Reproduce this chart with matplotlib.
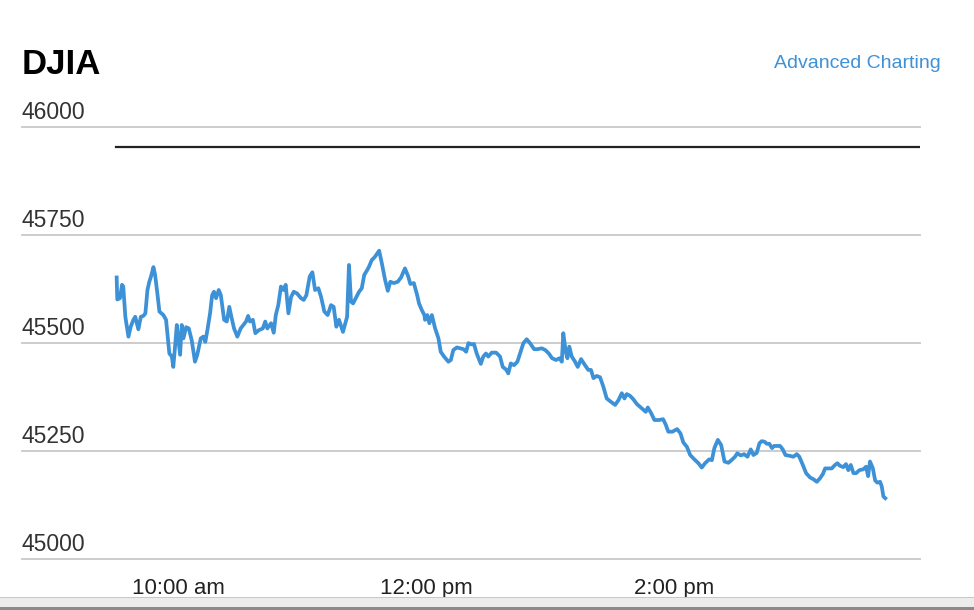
import matplotlib
matplotlib.use("Agg")
import matplotlib.pyplot as plt
from matplotlib import font_manager
from matplotlib.patches import Rectangle

# minutes after the 9:30 open, and DJIA level
minutes = [0.3, 0.6, 1.9, 2.9, 3.5, 4.5, 6.0, 7.1, 8.4, 9.3, 10.8, 12.0, 13.2, 14.2, 15.2,
           16.1, 16.9, 18.1, 18.9, 20.0, 21.0, 22.9, 24.2, 25.8, 27.0, 27.7, 28.7, 29.4,
           30.2, 31.0, 31.8, 32.6, 33.9, 35.2, 36.6, 38.2, 39.3, 41.0, 42.2, 43.2, 44.2,
           45.5, 46.5, 47.4, 48.4, 49.7, 50.7, 52.3, 53.6, 54.8, 55.8, 57.1, 58.7, 60.3,
           61.6, 62.9, 63.9, 64.8, 66.2, 67.4, 69.1, 71.0, 72.2, 73.2, 75.0, 76.3, 77.3,
           78.5, 79.8, 81.0, 82.1, 83.4, 84.7, 86.0, 87.6, 89.5, 90.8, 92.1, 93.7, 95.0,
           96.3, 97.9, 99.2, 100.8, 102.4, 104.0, 105.3, 106.6, 107.9, 109.8, 111.8, 112.7,
           113.7, 114.7, 116.3, 117.6, 118.9, 120.1, 121.5, 122.4, 123.7, 125.3, 127.3,
           128.6, 130.2, 131.5, 132.7, 134.4, 136.3, 137.9, 139.8, 141.4, 142.4, 144.1,
           145.7, 146.6, 147.9, 149.2, 149.5, 150.6, 151.6, 152.8, 154.4, 156.0, 157.1,
           158.7, 160.8, 162.0, 163.2, 164.9, 166.5, 168.1, 169.4, 170.5, 172.1, 173.2,
           174.5, 176.5, 177.7, 179.0, 180.1, 181.8, 183.9, 185.8, 187.1, 188.7, 189.8,
           191.0, 192.6, 194.2, 195.5, 197.1, 198.7, 200.3, 202.3, 203.9, 206.0, 207.7,
           209.4, 211.0, 212.9, 214.5, 215.7, 216.4, 217.6, 218.4, 219.3, 220.5, 222.1,
           223.4, 225.0, 226.9, 228.5, 229.8, 231.0, 232.6, 234.2, 235.8, 237.4, 239.5,
           241.5, 243.1, 244.7, 246.0, 247.1, 248.7, 250.3, 252.0, 254.4, 256.3, 257.3,
           258.9, 260.5, 262.7, 264.7, 266.0, 267.2, 269.2, 271.5, 273.1, 274.5, 276.2,
           277.8, 279.8, 281.8, 283.4, 285.0, 287.0, 288.3, 289.5, 291.2, 292.8, 294.4,
           296.3, 298.2, 299.5, 300.6, 302.3, 303.9, 305.5, 307.1, 308.4, 310.0, 311.3,
           312.4, 313.7, 314.9, 316.1, 317.4, 318.4, 321.3, 322.6, 323.9, 326.1, 327.7,
           329.4, 330.6, 332.3, 333.9, 335.8, 337.4, 339.1, 340.6, 342.0, 343.1, 344.7,
           346.3, 347.9, 349.0, 350.3, 351.9, 353.2, 354.3, 355.5, 356.8, 358.1, 359.7,
           361.6, 362.9, 363.9, 364.8, 366.2, 367.3, 368.4, 369.7, 370.5, 371.3, 372.2]
djia = [45651, 45600, 45603, 45634, 45630, 45560, 45514, 45537, 45553, 45560, 45531, 45560,
        45562, 45568, 45622, 45641, 45653, 45675, 45657, 45614, 45572, 45564, 45553, 45475,
        45468, 45444, 45499, 45541, 45506, 45472, 45541, 45510, 45536, 45533, 45506, 45456,
        45472, 45510, 45514, 45502, 45529, 45568, 45610, 45618, 45603, 45622, 45610, 45553,
        45549, 45583, 45560, 45533, 45514, 45533, 45541, 45549, 45562, 45549, 45553, 45522,
        45529, 45533, 45549, 45533, 45545, 45523, 45564, 45587, 45630, 45622, 45634, 45568,
        45606, 45618, 45614, 45603, 45599, 45610, 45653, 45663, 45622, 45626, 45606, 45572,
        45564, 45587, 45583, 45537, 45553, 45525, 45560, 45680, 45595, 45591, 45606, 45618,
        45626, 45657, 45668, 45676, 45691, 45699, 45713, 45684, 45645, 45620, 45641, 45638,
        45641, 45651, 45672, 45653, 45636, 45638, 45610, 45591, 45576, 45564, 45553, 45564,
        45545, 45564, 45533, 45510, 45479, 45468, 45456, 45460, 45483, 45489, 45487, 45485,
        45479, 45499, 45496, 45497, 45475, 45451, 45468, 45475, 45468, 45477, 45477, 45468,
        45444, 45438, 45429, 45452, 45448, 45456, 45475, 45499, 45508, 45499, 45485, 45485,
        45487, 45483, 45475, 45464, 45460, 45464, 45456, 45522, 45479, 45464, 45491, 45468,
        45456, 45444, 45462, 45448, 45437, 45437, 45418, 45423, 45420, 45398, 45371, 45363,
        45356, 45367, 45383, 45371, 45381, 45377, 45369, 45358, 45348, 45340, 45350, 45337,
        45321, 45321, 45323, 45310, 45294, 45294, 45300, 45290, 45269, 45259, 45240, 45230,
        45221, 45211, 45221, 45230, 45228, 45256, 45275, 45263, 45225, 45222, 45230, 45236,
        45244, 45239, 45242, 45236, 45253, 45240, 45245, 45267, 45272, 45271, 45266, 45266,
        45256, 45261, 45261, 45253, 45240, 45238, 45236, 45242, 45236, 45217, 45198, 45188,
        45184, 45178, 45186, 45196, 45209, 45209, 45209, 45217, 45221, 45215, 45212, 45219,
        45205, 45217, 45198, 45198, 45205, 45207, 45213, 45191, 45225, 45209, 45181, 45176,
        45178, 45167, 45144, 45140]

prev_close = 45954
y_ticks = [45000, 45250, 45500, 45750, 46000]
x_ticks = [30, 150, 270]
x_labels = ["10:00 am", "12:00 pm", "2:00 pm"]
session = [0, 390]

fams = {f.name for f in font_manager.fontManager.ttflist}
font = "Liberation Sans" if "Liberation Sans" in fams else "DejaVu Sans"
plt.rcParams["font.family"] = font

blue = "#3d91d7"
fig = plt.figure(figsize=(9.74, 6.1), dpi=100)
ax = fig.add_axes([22 / 974, 51.3 / 610, 898 / 974, 432 / 610])
ax.set_xlim(-45.5, 389)
ax.set_ylim(45000, 46000)

for v in y_ticks:
    ax.axhline(v, color="#c8c8c8", lw=1.3, clip_on=False, zorder=1)
    ax.annotate(str(v), (0, v), xycoords=("axes fraction", "data"),
                xytext=(0, 3), textcoords="offset pixels",
                ha="left", va="bottom", fontsize=16.5, color="#333333")

ax.plot(session, [prev_close, prev_close], color="#222222", lw=1.6, zorder=2)
ax.plot(minutes, djia, color=blue, lw=2.7, solid_joinstyle="round", zorder=3)

ax.set_xticks(x_ticks)
ax.set_xticklabels(x_labels, fontsize=16, color="#222222")
ax.tick_params(axis="x", length=0, pad=14)
ax.set_yticks([])
for s in ax.spines.values():
    s.set_visible(False)

fig.text(22 / 974, 1 - 64 / 610, "DJIA", fontsize=25, fontweight="bold",
         ha="left", va="center", color="black")
fig.text(941 / 974, 1 - 63 / 610, "Advanced Charting", fontsize=14,
         ha="right", va="center", color=blue)

# grey strip along the bottom edge of the page
fig.patches.append(Rectangle((0, 0), 1, 12 / 610, transform=fig.transFigure,
                             facecolor="#ececec", edgecolor="none"))
fig.patches.append(Rectangle((0, 12 / 610), 1, 1.5 / 610, transform=fig.transFigure,
                             facecolor="#c8c8c8", edgecolor="none"))
fig.patches.append(Rectangle((0, 0), 1, 3 / 610, transform=fig.transFigure,
                             facecolor="#8a8a8a", edgecolor="none"))

fig.savefig("out.png", dpi=100)
